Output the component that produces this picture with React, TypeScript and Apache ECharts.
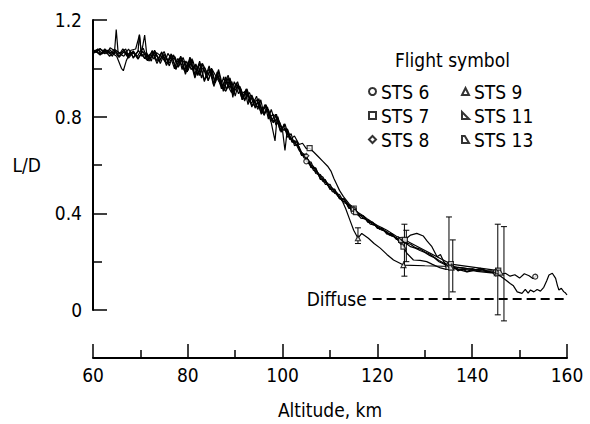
import React, { useEffect, useRef } from "react";
import * as echarts from "echarts";

// ---- Data (altitude km, L/D) ----
const sts6: [number, number][] = [
  [60,1.074],[60.7,1.066],[61.3,1.079],[62.4,1.072],[63,1.06],[63.6,1.085],[64.8,1.07],[65.3,1.058],[66.2,1.069],[66.9,1.08],
  [67.5,1.052],[68.3,1.066],[69.4,1.05],[70,1.071],[70.6,1.083],[71.3,1.046],[72.1,1.06],[72.9,1.038],[73.4,1.065],[74.4,1.05],
  [75.2,1.028],[75.8,1.062],[76.7,1.035],[77.3,1.048],[77.9,1.005],[78.6,1.04],[79.2,1.025],[79.9,0.985],[80.4,1.045],[81.2,0.99],
  [81.7,1.018],[82.5,0.97],[83.1,1.02],[83.8,0.992],[84.3,0.948],[85,0.99],[85.7,0.945],[86.2,0.985],[87,0.93],[87.6,0.965],
  [88.1,0.91],[88.9,0.96],[89.6,0.905],[90.2,0.94],[90.9,0.915],[91.5,0.87],[92.3,0.915],[92.9,0.86],[93.6,0.88],[94.2,0.835],
  [95,0.875],[95.6,0.82],[96.3,0.85],[97,0.79],[97.6,0.83],[98.4,0.78],[99,0.8],[99.7,0.735],[100.3,0.77],[101,0.715],
  [101.8,0.73],[102.5,0.68],[103.2,0.685],[104,0.64],[104.6,0.645],[105,0.615],[106,0.612],[107,0.565],[108,0.56],[109,0.52],
  [110,0.52],[111,0.482],[112,0.478],[113,0.444],[114,0.436],[115,0.407],[116,0.395],[117,0.388],[118,0.366],[119,0.36],
  [120,0.342],[121,0.336],[122,0.318],[123,0.312],[124,0.295],[125,0.29],[126,0.278],[127,0.272],[128,0.258],[129,0.252],
  [130,0.24],[131,0.232],[132,0.218],[133,0.205],[134,0.194],[135,0.183],[136,0.18],[137,0.176],[138,0.174],[139,0.171],
  [140,0.17],[141,0.166],[142,0.167],[143,0.163],[144,0.162],[145,0.158],[146,0.148],[147,0.152],[148,0.14],[149,0.146],
  [150,0.132],[151,0.15],[152,0.142],[152.8,0.13],[153.6,0.142],[153.2,0.148]
];
const sts7: [number, number][] = [
  [60,1.062],[60.5,1.075],[61.5,1.058],[62.5,1.08],[63.5,1.06],[64.5,1.078],[65.5,1.05],[66.5,1.076],[67.5,1.048],[68.5,1.072],
  [69.5,1.042],[70.5,1.07],[71.5,1.035],[72.5,1.074],[73.5,1.03],[74.5,1.068],[75.5,1.02],[76.5,1.06],[77.5,1.0],[78.5,1.05],
  [79.5,0.985],[80.5,1.045],[81.5,0.968],[82.5,1.03],[83.5,0.95],[84.5,1.01],[85.5,0.935],[86.5,0.995],[87.5,0.915],[88.5,0.972],
  [89.5,0.9],[90.5,0.945],[91.5,0.88],[92.5,0.915],[93.5,0.84],[94.5,0.885],[95.5,0.81],[96.5,0.85],[97.5,0.78],[98.5,0.81],
  [99.5,0.74],[100.5,0.77],[101.5,0.705],[102.5,0.72],[103.5,0.685],[104.2,0.69],[105,0.668],[105.7,0.67],[106.5,0.655],[107.5,0.635],
  [108.5,0.615],[109.5,0.595],[110.2,0.575],[110.8,0.545],[111.4,0.52],[112,0.495],[112.8,0.47],[114,0.44],[115,0.42],[116,0.402],
  [117,0.39],[118,0.375],[119,0.362],[120,0.35],[121,0.34],[122,0.33],[123,0.318],[124,0.305],[125.8,0.29],[135.5,0.19],
  [145.5,0.163]
];
const sts8: [number, number][] = [
  [60,1.064],[61.1,1.079],[61.6,1.058],[62.7,1.075],[63.4,1.066],[64.1,1.05],[64.6,1.078],[65.7,1.062],[66.3,1.081],[67.2,1.055],
  [68,1.068],[68.5,1.042],[69.6,1.074],[70.3,1.05],[71.2,1.065],[71.8,1.03],[72.6,1.055],[73.1,1.07],[74,1.028],[74.7,1.052],
  [75.5,1.04],[76.1,1.01],[76.9,1.055],[77.6,1.02],[78.2,1.042],[78.8,0.995],[79.6,1.03],[80.2,1.005],[80.9,1.04],[81.4,0.975],
  [82.2,1.01],[82.9,0.96],[83.5,1.005],[84.2,0.975],[84.9,0.995],[85.4,0.935],[86.1,0.975],[86.8,0.95],[87.3,0.915],[88,0.965],
  [88.7,0.92],[89.3,0.945],[90,0.885],[90.6,0.93],[91.4,0.895],[92.1,0.905],[92.7,0.85],[93.5,0.89],[94.1,0.86],[94.8,0.83],
  [95.4,0.87],[96.1,0.805],[96.8,0.84],[97.4,0.8],[98.1,0.78],[98.7,0.81],[99.4,0.75],[100,0.74],[100.5,0.66],[101,0.75],
  [102,0.695],[103,0.7],[104,0.64],[105,0.638],[106,0.59],[107,0.588],[108,0.54],[109,0.54],[110,0.5],[111,0.5],
  [112,0.462],[113,0.46],[114,0.422],[115,0.418],[116,0.4],[117,0.38],[118,0.372],[119,0.353],[120,0.347],[121,0.33],
  [122,0.324],[123,0.306],[124,0.3],[125,0.282],[126,0.276],[127,0.262],[128,0.256],[129,0.246],[130,0.238],[131,0.226],
  [132,0.216],[133,0.2],[134,0.19],[135,0.178],[136,0.176],[137,0.17],[138,0.168],[139,0.166],[140,0.164],[141,0.16],
  [142,0.158],[143,0.156],[144,0.154],[145,0.15],[146,0.14],[147,0.125],[148,0.11],[148.7,0.1],[149.5,0.075],[150.5,0.069],
  [151.2,0.085],[151.8,0.07],[152.3,0.083],[153,0.075],[153.7,0.085],[154.4,0.078],[155.1,0.094],[155.7,0.12],[156.2,0.145],[156.9,0.152],
  [157.3,0.14],[157.6,0.131],[158,0.1],[158.3,0.083],[158.8,0.09],[159.3,0.076],[159.7,0.07],[160,0.062]
];
const sts9: [number, number][] = [
  [60,1.08],[60.5,1.066],[61.5,1.082],[62.5,1.06],[63.5,1.078],[64.5,1.058],[64.9,1.16],[65.3,1.065],[66.5,1.05],[67.5,1.08],
  [68.5,1.045],[69.5,1.07],[69.8,1.14],[70.2,1.06],[71.5,1.032],[72.5,1.07],[73.5,1.02],[74.5,1.065],[75.5,1.012],[76.5,1.055],
  [77.5,0.995],[78.5,1.048],[79.5,0.975],[80.5,1.035],[81.5,0.96],[82.5,1.02],[83.5,0.945],[84.5,1.0],[85.5,0.925],[86.5,0.985],
  [87.5,0.905],[88.5,0.96],[89.5,0.89],[90.5,0.93],[91.5,0.87],[92.5,0.905],[93.5,0.845],[94.5,0.87],[95.5,0.815],[96.5,0.845],
  [97.5,0.785],[98.4,0.7],[98.8,0.79],[99.5,0.76],[100.5,0.75],[101.5,0.71],[102.5,0.7],[103.5,0.66],[104.5,0.645],[105.5,0.605],
  [106.5,0.595],[107.5,0.56],[108.5,0.55],[109.5,0.515],[110.5,0.505],[111.5,0.475],[112.5,0.455],[113.3,0.42],[114.2,0.372],[115,0.33],
  [115.9,0.297],[116.7,0.317],[118.1,0.297],[119.3,0.275],[120.6,0.256],[122,0.23],[123.4,0.207],[125.5,0.186],[130,0.183],[135.7,0.18],
  [140,0.168],[145.2,0.152]
];
const sts11: [number, number][] = [
  [60,1.066],[61,1.08],[62,1.06],[63,1.075],[64,1.062],[65,1.05],[66,1.0],[66.4,0.99],[67,1.03],[68,1.075],
  [69,1.08],[69.8,1.138],[70.2,1.06],[70.9,1.138],[71.3,1.065],[72,1.04],[73,1.075],[74,1.03],[75,1.07],[76,1.02],
  [77,1.055],[78,1.005],[79,1.045],[80,0.99],[81,1.035],[82,0.975],[83,1.02],[84,0.96],[85,1.0],[86,0.965],
  [87,0.93],[88,0.905],[89,0.945],[89.5,0.88],[90,0.93],[91,0.925],[92,0.87],[93,0.9],[94,0.845],[95,0.86],
  [96,0.81],[97,0.83],[98,0.775],[99,0.795],[100,0.745],[101,0.745],[102,0.695],[103,0.695],[104,0.645],[105,0.635],
  [106,0.59],[107,0.585],[108,0.54],[109,0.537],[110,0.5],[111,0.497],[112,0.46],[113,0.458],[114,0.42],[115,0.42],
  [116,0.39],[117,0.39],[118,0.362],[119,0.364],[120,0.338],[121,0.338],[122,0.314],[123,0.316],[124,0.292],[125,0.29],
  [126.2,0.297],[127,0.31],[128.3,0.317],[129.7,0.306],[130.5,0.285],[131.5,0.262],[132.6,0.22],[133.3,0.23],[134,0.2],[135,0.178],
  [136,0.182],[137,0.162],[138,0.17],[138.9,0.158],[140,0.17],[141,0.165],[141.7,0.172],[143,0.16],[144.5,0.154],[145.5,0.16]
];
const sts13: [number, number][] = [
  [60,1.058],[60.5,1.072],[61.5,1.055],[62.5,1.074],[63.5,1.05],[64.5,1.07],[65.5,1.045],[66.5,1.068],[67.5,1.042],[68.5,1.066],
  [69.5,1.038],[70.2,1.062],[70.9,1.04],[71.4,1.058],[72.3,1.03],[72.8,1.065],[73.7,1.045],[74.2,1.02],[75,1.058],[75.9,1.03],
  [76.4,1.045],[77.2,0.998],[77.8,1.04],[78.7,1.015],[79.3,0.99],[80.1,1.028],[80.7,0.995],[81.6,1.015],[82.1,0.97],[82.8,1.005],
  [83.7,0.985],[84.3,0.95],[85.1,0.995],[85.8,0.94],[86.3,0.97],[87.1,0.915],[87.9,0.955],[88.4,0.93],[89.2,0.9],[89.8,0.945],
  [90.7,0.895],[91.2,0.915],[92,0.865],[92.6,0.905],[93.3,0.855],[94,0.87],[94.7,0.84],[95.3,0.845],[96,0.81],[96.7,0.84],
  [97.2,0.795],[98,0.81],[98.6,0.765],[99.3,0.78],[100,0.745],[100.5,0.745],[101.5,0.715],[102.5,0.69],[103.5,0.675],[104.5,0.63],
  [105.5,0.62],[106.5,0.578],[107.5,0.568],[108.5,0.532],[109.5,0.525],[110.5,0.49],[111.5,0.485],[112.5,0.452],[113.5,0.447],[114.5,0.412],
  [115.5,0.405],[116.5,0.38],[117.5,0.377],[118.5,0.355],[119.5,0.352],[120.5,0.333],[121.5,0.33],[122.5,0.31],[123.5,0.305],[124.5,0.285],
  [125.5,0.262],[126.2,0.235],[127.6,0.207],[129,0.205],[130.4,0.2],[131.5,0.19],[133.3,0.174],[134.5,0.168],[135.6,0.175],[137,0.168],
  [138.9,0.158],[140,0.162],[141.7,0.172],[143,0.162],[144.5,0.154],[146,0.155]
];

// Flight symbol points
const sts6Marks: [number, number][] = [[105,0.615],[115,0.407],[125,0.29],[135,0.183],[145,0.158],[153.3,0.138]];
const sts7Marks: [number, number][] = [[105.7,0.67],[115,0.42],[125.8,0.29],[135.5,0.19],[145.5,0.163]];
const sts8Marks: [number, number][] = [[105,0.638],[115,0.418],[125,0.282],[135,0.178],[145,0.15]];
const sts9Marks: [number, number][] = [[115.9,0.297],[125.5,0.186],[135.7,0.18],[145.2,0.152]];
const sts11Marks: [number, number][] = [[115,0.42],[125,0.29],[135,0.178],[145.5,0.16]];
const sts13Marks: [number, number][] = [[115.5,0.405],[125.5,0.262],[135.6,0.175],[146,0.155]];

// Error bars
const errAlt = [115.9, 125.7, 126.1, 135.1, 135.9, 145.4, 146.7];
const errLow = [0.275, 0.14, 0.2, 0.047, 0.075, -0.02, -0.045];
const errHigh = [0.34, 0.355, 0.33, 0.385, 0.29, 0.355, 0.345];

// Diffuse reference
const diffuseLD = 0.046;
const diffuseFrom = 119;
const diffuseTo = 160;

const flightNames = ["STS 6", "STS 7", "STS 8", "STS 9", "STS 11", "STS 13"];
const yTickLabels = ["0", "0.4", "0.8", "1.2"];

const FONT = "'Liberation Sans Narrow', 'DejaVu Sans Condensed', 'Arial Narrow', sans-serif";

export default function App() {
  const ref = useRef<HTMLDivElement>(null);
  useEffect(() => {
    document.body.style.margin = "0";
    if (!ref.current) return;
    const chart = echarts.init(ref.current, undefined, { renderer: "svg" });
    const traces = [sts6, sts7, sts8, sts9, sts11, sts13];
    const marks = [sts6Marks, sts7Marks, sts8Marks, sts9Marks, sts11Marks, sts13Marks];
    const symbols = [
      "circle",
      "rect",
      "diamond",
      "triangle",
      "path://M0,0 L10,10 L0,10 Z",
      "path://M0,0 L4,0 L10,10 L0,10 Z",
    ];
    const lineSeries: any[] = traces.map((t, i) => ({
      type: "line",
      name: flightNames[i] + " trace",
      xAxisIndex: 0,
      yAxisIndex: 0,
      data: t,
      symbol: "none",
      clip: false,
      lineStyle: { color: "#000", width: 1.2 },
      z: 2,
      ...(i === 0
        ? {
            markLine: {
              silent: true,
              symbol: "none",
              lineStyle: { color: "#000", width: 2, type: [9, 5] },
              label: {
                show: true,
                position: "start",
                formatter: "Diffuse",
                color: "#000",
                fontSize: 19,
                fontFamily: FONT,
                distance: 6,
              },
              data: [[{ coord: [diffuseFrom, diffuseLD] }, { coord: [diffuseTo, diffuseLD] }]],
            },
          }
        : {}),
    }));
    const markSeries: any[] = marks.map((m, i) => ({
      type: "scatter",
      name: flightNames[i],
      xAxisIndex: 0,
      yAxisIndex: 0,
      data: m,
      symbol: symbols[i],
      symbolSize: 5,
      itemStyle: { color: "#fff", borderColor: "#000", borderWidth: 1.2 },
      z: 4,
    }));
    const errSeries = {
      type: "custom",
      name: "error",
      xAxisIndex: 0,
      yAxisIndex: 0,
      clip: false,
      z: 3,
      data: errAlt.map((a, i) => [a, errLow[i], errHigh[i]]),
      encode: { x: 0, y: [1, 2] },
      renderItem: (params: any, api: any) => {
        const x = api.value(0);
        const lo = api.coord([x, api.value(1)]);
        const hi = api.coord([x, api.value(2)]);
        const cap = 3;
        const st = { stroke: "#000", lineWidth: 1 };
        return {
          type: "group",
          children: [
            { type: "line", shape: { x1: lo[0], y1: lo[1], x2: hi[0], y2: hi[1] }, style: st },
            { type: "line", shape: { x1: lo[0] - cap, y1: lo[1], x2: lo[0] + cap, y2: lo[1] }, style: st },
            { type: "line", shape: { x1: hi[0] - cap, y1: hi[1], x2: hi[0] + cap, y2: hi[1] }, style: st },
          ],
        };
      },
    };
    const legendCommon = {
      orient: "vertical",
      top: 77,
      itemWidth: 7,
      itemHeight: 7,
      itemGap: 5,
      selectedMode: false,
      textStyle: { fontSize: 19, color: "#000", fontFamily: FONT, lineHeight: 18 },
    };
    chart.setOption({
      animation: false,
      backgroundColor: "#fff",
      textStyle: { fontFamily: FONT },
      title: {
        text: "Flight symbol",
        left: 390,
        top: 45,
        textStyle: { fontSize: 19, fontWeight: "normal", color: "#000", fontFamily: FONT },
      },
      legend: [
        { ...legendCommon, left: 363, data: flightNames.slice(0, 3) },
        { ...legendCommon, left: 456, data: flightNames.slice(3) },
      ],
      grid: [
        { left: 93, right: 23, top: 20, height: 290 },
        { left: 93, right: 23, top: 357, height: 1 },
      ],
      xAxis: [
        { type: "value", gridIndex: 0, min: 60, max: 160, show: false },
        {
          type: "value",
          gridIndex: 1,
          min: 60,
          max: 160,
          interval: 20,
          position: "bottom",
          name: "Altitude, km",
          nameLocation: "middle",
          nameGap: 42,
          nameTextStyle: { fontSize: 19, color: "#000", fontFamily: FONT },
          axisLine: { lineStyle: { color: "#000", width: 2 } },
          axisTick: { inside: true, length: 14, lineStyle: { color: "#000", width: 1.5 } },
          minorTick: { show: true, splitNumber: 2, length: 8, lineStyle: { color: "#000", width: 1.5 } },
          axisLabel: { fontSize: 19, color: "#000", margin: 7, fontFamily: FONT },
          splitLine: { show: false },
        },
      ],
      yAxis: [
        {
          type: "value",
          gridIndex: 0,
          min: 0,
          max: 1.2,
          interval: 0.4,
          name: "L/D",
          nameLocation: "middle",
          nameRotate: 0,
          nameGap: 52,
          nameTextStyle: { fontSize: 19, color: "#000", fontFamily: FONT },
          axisLine: { show: true, lineStyle: { color: "#000", width: 2 } },
          axisTick: { show: true, inside: true, length: 14, lineStyle: { color: "#000", width: 1.5 } },
          minorTick: { show: true, splitNumber: 2, length: 9, lineStyle: { color: "#000", width: 1.5 } },
          axisLabel: {
            fontSize: 19,
            color: "#000",
            margin: 11,
            fontFamily: FONT,
            formatter: (v: number) => yTickLabels[Math.round(v / 0.4)] ?? "",
          },
          splitLine: { show: false },
        },
        { type: "value", gridIndex: 1, min: 0, max: 1, show: false },
      ],
      series: [...lineSeries, errSeries, ...markSeries],
    });
    return () => chart.dispose();
  }, []);
  return <div ref={ref} style={{ width: 590, height: 424 }} />;
}
